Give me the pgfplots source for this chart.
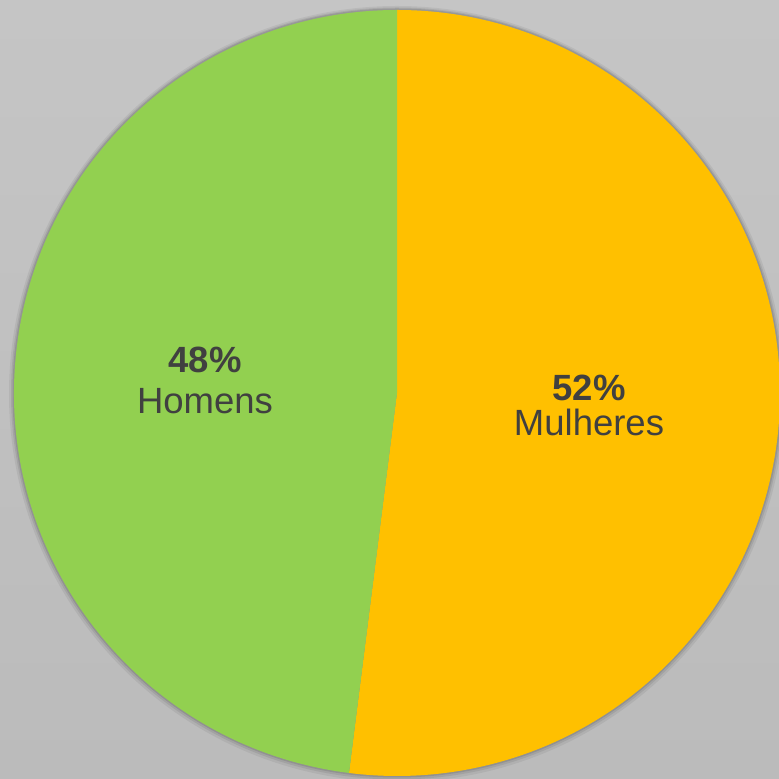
\documentclass[border=0pt]{standalone}
\usepackage{pgfplots}
\pgfplotsset{compat=1.18}
\usepackage{pgfplotstable}
\usepackage{fontspec}
\setmainfont{Liberation Sans}
\definecolor{bgA}{HTML}{C5C5C5}
\definecolor{bgB}{HTML}{BBBBBB}
\definecolor{pieGreen}{HTML}{92D050}
\definecolor{pieOrange}{HTML}{FFC000}
\definecolor{txt}{HTML}{404040}
\pgfplotstableread{
label value
Mulheres 52
Homens 48
}\piedata
\begin{document}
\begin{tikzpicture}
\pgfplotstablegetelem{0}{value}\of\piedata \let\vA\pgfplotsretval
\pgfplotstablegetelem{1}{value}\of\piedata \let\vB\pgfplotsretval
\pgfmathsetmacro\aStart{90}
\pgfmathsetmacro\aMid{90-3.6*\vA}
\pgfmathsetmacro\aEnd{\aMid-3.6*\vB}
\useasboundingbox (0,0) rectangle (779bp,779bp);
\shade[top color=bgA, bottom color=bgB] (0,0) rectangle (779bp,779bp);
\begin{axis}[at={(0,0)}, anchor=origin, scale only axis, width=779bp, height=779bp,
  xmin=0, xmax=779, ymin=0, ymax=779, hide axis, clip=true]
  % soft shadow
  \fill[black, opacity=0.06] (axis cs:397,385) circle[radius=388bp];
  \fill[black, opacity=0.08] (axis cs:397,385.5) circle[radius=386bp];
  \fill[black, opacity=0.10] (axis cs:397,386) circle[radius=384.5bp];
  % slices
  \fill[pieOrange] (axis cs:397,386) -- ++(\aStart:383bp) arc[start angle=\aStart, end angle=\aMid, radius=383bp] -- cycle;
  \fill[pieGreen] (axis cs:397,386) -- ++(\aMid:383bp) arc[start angle=\aMid, end angle=\aEnd, radius=383bp] -- cycle;
  % labels
  \node[anchor=base, text=txt, font=\fontsize{36.5bp}{40bp}\selectfont\bfseries, inner sep=0pt] at (axis cs:205,406) {\vB\%};
  \node[anchor=base, text=txt, font=\fontsize{36.5bp}{40bp}\selectfont, inner sep=0pt] at (axis cs:205,365) {Homens};
  \node[anchor=base, text=txt, font=\fontsize{36.5bp}{40bp}\selectfont\bfseries, inner sep=0pt] at (axis cs:589,378) {\vA\%};
  \node[anchor=base, text=txt, font=\fontsize{36.5bp}{40bp}\selectfont, inner sep=0pt] at (axis cs:589,343) {Mulheres};
\end{axis}
\end{tikzpicture}
\end{document}
